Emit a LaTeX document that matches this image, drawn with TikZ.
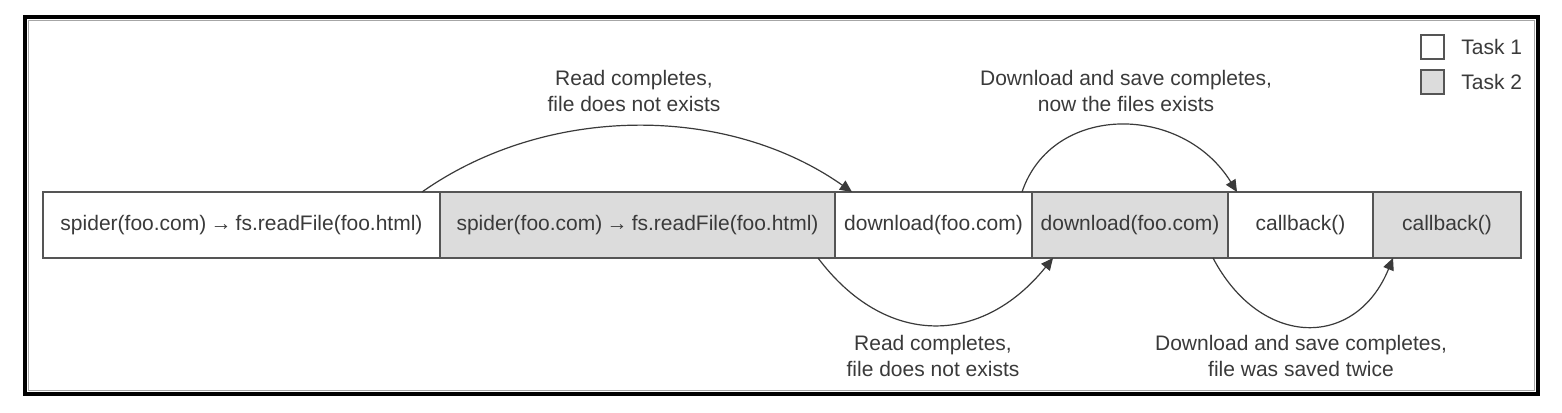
\documentclass[tikz,border=0pt]{standalone}
\usepackage{fontspec}
\setmainfont{Liberation Sans}
\usetikzlibrary{arrows.meta,calc}
\definecolor{txt}{HTML}{3A3A3A}
\definecolor{edge}{HTML}{555555}
\definecolor{taskb}{HTML}{DCDCDC}
\newcommand{\callarrow}{\hspace{0.2em}→\hspace{0.2em}}
\begin{document}
\begin{tikzpicture}[x=0.5pt,y=-0.5pt,
  every node/.style={font=\fontsize{10.5}{13}\selectfont, text=txt},
  cell/.style={draw=edge, line width=0.75pt, minimum height=33pt, inner sep=0pt, outer sep=0pt, anchor=west},
  taskone/.style={cell, fill=white},
  tasktwo/.style={cell, fill=taskb},
  legbox/.style={draw=edge, line width=0.75pt, minimum width=11.5pt, minimum height=12pt, inner sep=0pt},
  lbl/.style={align=center, inner sep=0pt},
  flow/.style={draw=txt, line width=0.6pt, -{Triangle[length=6pt,width=5.5pt]}}
]
\useasboundingbox (0,0) rectangle (1562,412);
\fill[white] (0,0) rectangle (1562,412);
% frame
\draw[black, line width=2pt] (25,17) rectangle (1538,394);
\draw[black!35, line width=0.6pt] (28.5,20.5) rectangle (1534.5,390.5);

% boxes
\node[taskone, minimum width=198.5pt] (b1) at (43,225) {spider(foo.com)\callarrow fs.readFile(foo.html)};
\node[tasktwo, minimum width=197.5pt] (b2) at (b1.east) {spider(foo.com)\callarrow fs.readFile(foo.html)};
\node[taskone, minimum width=98.5pt] (b3) at (b2.east) {download(foo.com)};
\node[tasktwo, minimum width=98pt] (b4) at (b3.east) {download(foo.com)};
\node[taskone, minimum width=72.5pt] (b5) at (b4.east) {callback()};
\node[tasktwo, minimum width=74pt] (b6) at (b5.east) {callback()};

% arcs
\draw[flow] ($(b1.north east)+(-18,0)$) .. controls +(125,-88) and +(-125,-88) .. ($(b3.north west)+(17,0)$);
\draw[flow] ($(b3.north east)+(-10,0)$) .. controls +(30,-89) and +(-55,-89) .. ($(b5.north west)+(9,0)$);
\draw[flow] ($(b2.south east)+(-17,0)$) .. controls +(67,89) and +(-72,89) .. ($(b4.south west)+(21,0)$);
\draw[flow] ($(b4.south east)+(-15,0)$) .. controls +(48,91) and +(-37,91) .. ($(b6.south west)+(20,0)$);

% labels
\node[lbl] (l1) at (634,91) {Read completes,\\file does not exists};
\node[lbl] (l2) at (1126,91) {Download and save completes,\\now the files exists};
\node[lbl] (l3) at (933,356) {Read completes,\\file does not exists};
\node[lbl] (l4) at (1301,356) {Download and save completes,\\file was saved twice};

% legend
\node[legbox, fill=white] (k1) at (1432.5,47) {};
\node[legbox, fill=taskb] (k2) at (1432.5,82) {};
\node[anchor=west, inner sep=0pt] (t1) at (1461,47) {Task 1};
\node[anchor=west, inner sep=0pt] (t2) at (1461,82) {Task 2};
\end{tikzpicture}
\end{document}
